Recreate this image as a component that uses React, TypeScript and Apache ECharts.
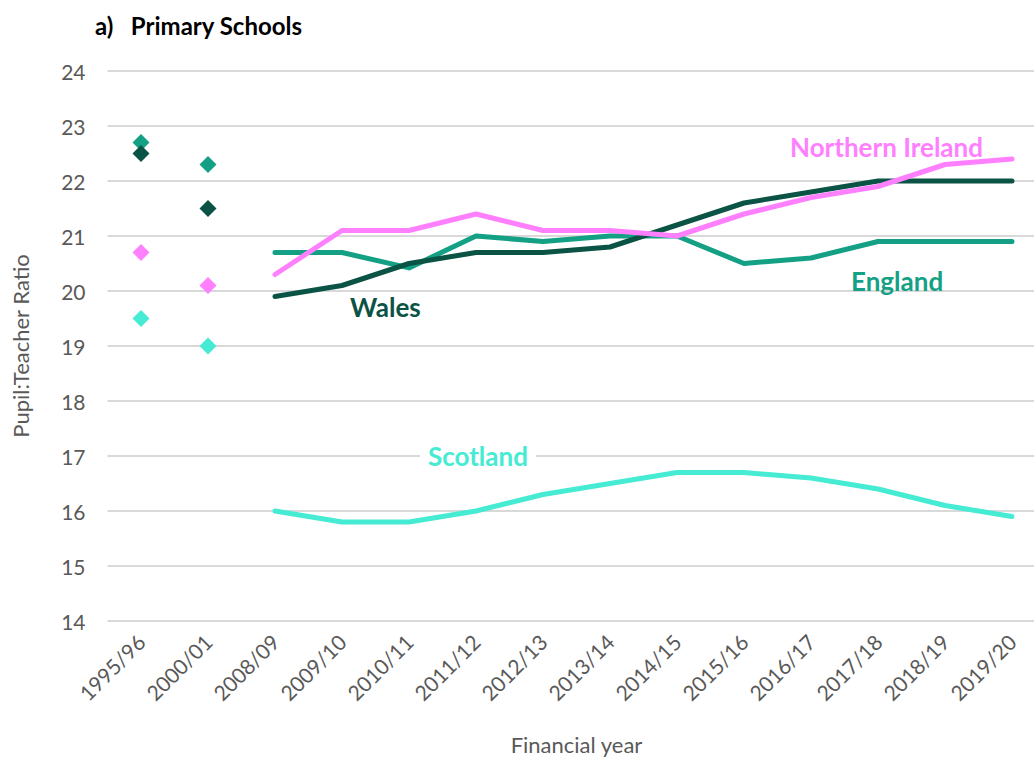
import React, { useEffect, useRef } from "react";
import * as echarts from "echarts";

const categories = [
  "1995/96", "2000/01", "2008/09", "2009/10", "2010/11", "2011/12", "2012/13",
  "2013/14", "2014/15", "2015/16", "2016/17", "2017/18", "2018/19", "2019/20",
];

// Early years shown as diamond markers only
const englandEarly = [22.7, 22.3];
const walesEarly = [22.5, 21.5];
const niEarly = [20.7, 20.1];
const scotlandEarly = [19.5, 19.0];

// 2008/09 onwards shown as lines
const englandLine = [20.7, 20.7, 20.42, 21.0, 20.9, 21.0, 21.0, 20.5, 20.6, 20.9, 20.9, 20.9];
const walesLine = [19.9, 20.1, 20.5, 20.7, 20.7, 20.8, 21.2, 21.6, 21.8, 22.0, 22.0, 22.0];
const niLine = [20.3, 21.1, 21.1, 21.4, 21.1, 21.1, 21.0, 21.4, 21.7, 21.9, 22.3, 22.4];
const scotlandLine = [16.0, 15.8, 15.8, 16.0, 16.3, 16.5, 16.7, 16.7, 16.6, 16.4, 16.1, 15.9];

const yTicks = { min: 14, max: 24, interval: 1 };

const COLORS = {
  england: "#14a085",
  wales: "#0b5345",
  ni: "#ff80ff",
  scotland: "#45ebd2",
};

const FONT = "Lato, 'Open Sans', sans-serif";

function early(vals: number[]) {
  return categories.map((_, i) => (i < vals.length ? vals[i] : null));
}
function later(vals: number[]) {
  const offset = categories.length - vals.length;
  return categories.map((_, i) => (i >= offset ? vals[i - offset] : null));
}

export default function App() {
  const ref = useRef<HTMLDivElement>(null);
  useEffect(() => {
    document.body.style.margin = "0";
    if (!ref.current) return;
    const chart = echarts.init(ref.current, undefined, { renderer: "svg" });
    const lineSeries = (name: string, color: string, vals: number[], z: number) => ({
      name,
      type: "line",
      data: later(vals),
      showSymbol: false,
      symbol: "none",
      lineStyle: { color, width: 5, cap: "round", join: "round" },
      z,
    });
    const scatterSeries = (name: string, color: string, vals: number[], z: number) => ({
      name: name + " early",
      type: "scatter",
      data: early(vals),
      symbol: "diamond",
      symbolSize: [17, 17],
      itemStyle: { color, opacity: 1 },
      z,
    });
    chart.setOption({
      animation: false,
      textStyle: { fontFamily: FONT },
      title: {
        text: "a)   Primary Schools",
        left: 90,
        top: 8,
        textStyle: { fontFamily: FONT, fontSize: 24, fontWeight: "bold", color: "#000" },
      },
      grid: { left: 107.5, top: 71, width: 938, height: 550, outerBoundsMode: "none", containLabel: false },
      xAxis: {
        type: "category",
        data: categories,
        boundaryGap: true,
        axisLine: { show: false },
        axisTick: { show: false },
        axisLabel: {
          rotate: 45,
          fontSize: 21,
          color: "#595959",
          fontFamily: FONT,
          margin: 17,
          interval: 0,
        },
        name: "Financial year",
        nameLocation: "middle",
        nameGap: 112,
        nameTextStyle: { fontSize: 22, color: "#595959", fontFamily: FONT },
      },
      yAxis: {
        type: "value",
        min: yTicks.min,
        max: yTicks.max,
        interval: yTicks.interval,
        axisLine: { show: false },
        axisTick: { show: false },
        splitLine: { lineStyle: { color: "#d9d9d9", width: 2 } },
        axisLabel: { fontSize: 21, color: "#595959", fontFamily: FONT, margin: 22 },
        name: "Pupil:Teacher Ratio",
        nameLocation: "middle",
        nameGap: 76,
        nameTextStyle: { fontSize: 22, color: "#595959", fontFamily: FONT },
      },
      series: [
        lineSeries("England", COLORS.england, englandLine, 2),
        lineSeries("Wales", COLORS.wales, walesLine, 3),
        lineSeries("Scotland", COLORS.scotland, scotlandLine, 2),
        lineSeries("Northern Ireland", COLORS.ni, niLine, 4),
        scatterSeries("England", COLORS.england, englandEarly, 5),
        scatterSeries("Wales", COLORS.wales, walesEarly, 6),
        scatterSeries("Northern Ireland", COLORS.ni, niEarly, 5),
        scatterSeries("Scotland", COLORS.scotland, scotlandEarly, 5),
      ],
      graphic: [
        {
          type: "text",
          left: 790,
          top: 134,
          z: 100,
          style: { text: "Northern Ireland", fill: COLORS.ni, font: `bold 26px ${FONT}` },
        },
        {
          type: "text",
          left: 851,
          top: 268,
          z: 100,
          style: { text: "England", fill: COLORS.england, font: `bold 26px ${FONT}` },
        },
        {
          type: "text",
          left: 342,
          top: 292,
          z: 100,
          style: {
            text: "Wales",
            fill: COLORS.wales,
            font: `bold 26px ${FONT}`,
            backgroundColor: "#fff",
            padding: [2, 8, 2, 8],
          },
        },
        {
          type: "text",
          left: 420,
          top: 441,
          z: 100,
          style: {
            text: "Scotland",
            fill: COLORS.scotland,
            font: `bold 26px ${FONT}`,
            backgroundColor: "#fff",
            padding: [2, 8, 2, 8],
          },
        },
      ],
    });
    return () => chart.dispose();
  }, []);
  return <div ref={ref} style={{ width: 1034, height: 758 }} />;
}
